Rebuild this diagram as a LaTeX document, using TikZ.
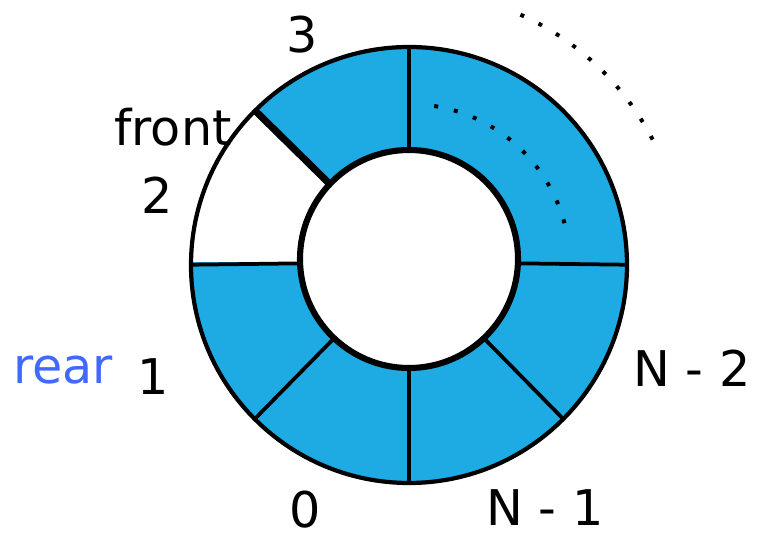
\documentclass[tikz,border=0pt]{standalone}
\usepackage{fontspec}
\setmainfont{DejaVu Sans}
\usepackage{xcolor}
\definecolor{ringblue}{RGB}{30,171,227}
\definecolor{rearblue}{RGB}{64,105,255}

\begin{document}
\begin{tikzpicture}[x=0.03cm, y=0.03cm,
  lbl/.style={font=\fontsize{42}{48}\selectfont, inner sep=0pt},
  spoke/.style={line width=3.2pt},
  dots/.style={line width=3.4pt, dash pattern=on 3.4pt off 13.8pt}]
  \useasboundingbox (-409,-277) rectangle (350,265);
  % ring body and slots
  \begin{scope}
    \clip (0,0) circle[radius=218];
    \fill[ringblue] (0,0) circle[radius=218];
    \fill[white] (0,3) -- (-300,3) -- (-300,303) -- cycle;
    \foreach \a in {0,90,180,225,270,315}
      \draw[spoke] (0,3) -- (\a:240);
    \draw[line width=6pt] (0,3) -- (135:260);
  \end{scope}
  \fill[white] (0,6) circle[radius=109];
  \draw[line width=5.2pt] (0,6) circle[radius=109];
  \draw[line width=3.6pt] (0,0) circle[radius=218];
  % more slots
  \draw[dots] (66:274) arc[start angle=66, end angle=26, radius=274];
  \draw[dots] (81:161) arc[start angle=81, end angle=10, radius=161];
  % labels
  \node[lbl] (three) at (-107,230) {3};
  \node[lbl] (front) at (-236,138) {front};
  \node[lbl] (two) at (-252,70) {2};
  \node[lbl, text=rearblue] (rear) at (-346,-105) {rear};
  \node[lbl] (one) at (-256,-112) {1};
  \node[lbl] (zero) at (-104,-245) {0};
  \node[lbl] (nm1) at (136,-243) {N - 1};
  \node[lbl] (nm2) at (283,-103) {N - 2};
\end{tikzpicture}
\end{document}
